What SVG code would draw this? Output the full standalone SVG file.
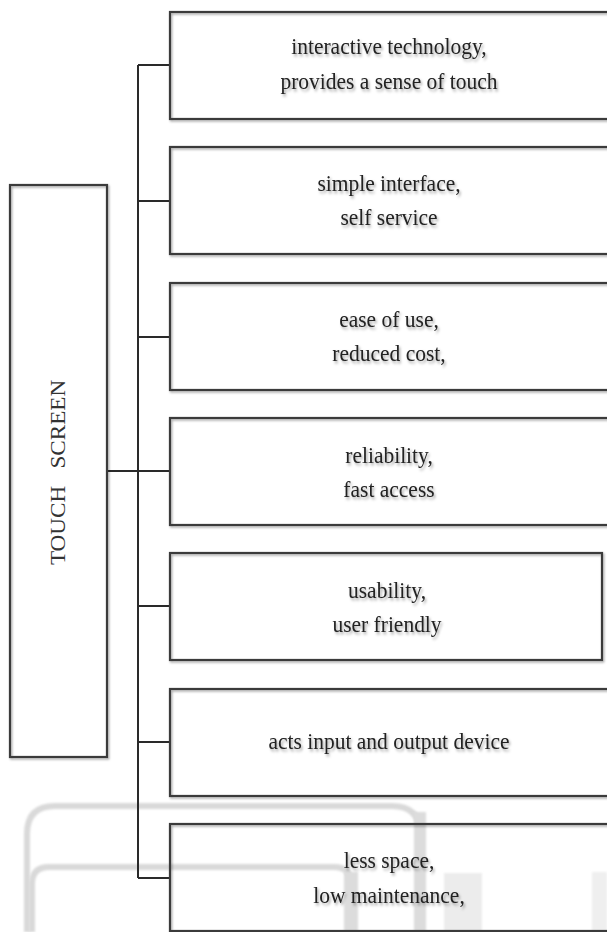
<svg xmlns="http://www.w3.org/2000/svg" width="607" height="932" viewBox="0 0 607 932">
  <defs>
    <filter id="shadow" x="-5%" y="-5%" width="110%" height="110%">
      <feDropShadow dx="1.2" dy="1.5" stdDeviation="1" flood-color="#000" flood-opacity="0.35"/>
    </filter>
    <filter id="tshadow" x="-5%" y="-20%" width="110%" height="140%">
      <feDropShadow dx="1.5" dy="2" stdDeviation="1.2" flood-color="#000" flood-opacity="0.35"/>
    </filter>
    <filter id="soft" x="-10%" y="-10%" width="120%" height="120%">
      <feGaussianBlur stdDeviation="1.2"/>
    </filter>
  </defs>
  <style>
    .box { fill: none; stroke: #3a3a3a; stroke-width: 2.2; filter: url(#shadow); }
    .lbl { font-family: "Liberation Serif", "Times New Roman", serif; font-size: 21.5px; fill: #222; text-anchor: middle; filter: url(#tshadow); }
    .main { font-family: "Liberation Serif", "Times New Roman", serif; font-size: 20.3px; fill: #333; text-anchor: middle; }
    .conn { stroke: #2a2a2a; stroke-width: 2; fill: none; }
    .wm { stroke: #d9d9d9; fill: none; stroke-linecap: butt; filter: url(#soft); }
  </style>
  <rect x="0" y="0" width="607" height="932" fill="#ffffff"/>

  <g id="watermark">
    <path class="wm" stroke-width="6" d="M27,932 V834 Q27,806 55,806 H392 Q420,806 420,834 V932"/>
    <path class="wm" stroke-width="6" d="M32,932 V884 Q32,867 49,867 H334 Q351,867 351,884 V932"/>
    <rect x="414" y="812" width="12" height="120" fill="#dcdcdc" filter="url(#soft)"/>
    <rect x="344" y="872" width="14" height="60" fill="#dcdcdc" filter="url(#soft)"/>
    <rect x="444" y="873" width="38" height="59" fill="#ececec" filter="url(#soft)"/>
    <rect x="592" y="872" width="15" height="60" fill="#efefef" filter="url(#soft)"/>
  </g>

  <g id="connectors">
    <line class="conn" x1="138" y1="65" x2="138" y2="878"/>
    <line class="conn" x1="107" y1="471" x2="138" y2="471"/>
    <line class="conn" x1="138" y1="65" x2="170" y2="65"/>
    <line class="conn" x1="138" y1="201" x2="170" y2="201"/>
    <line class="conn" x1="138" y1="337" x2="170" y2="337"/>
    <line class="conn" x1="138" y1="471" x2="170" y2="471"/>
    <line class="conn" x1="138" y1="606" x2="170" y2="606"/>
    <line class="conn" x1="138" y1="742" x2="170" y2="742"/>
    <line class="conn" x1="138" y1="878" x2="170" y2="878"/>
  </g>

  <g id="touch-screen">
    <rect class="box" x="10" y="185" width="97" height="572"/>
    <text class="main" xml:space="preserve" transform="translate(65,472.5) scale(1,1.14) rotate(-90)" x="0" y="0">TOUCH   SCREEN</text>
  </g>

  <g id="node1">
    <rect class="box" x="170" y="12" width="440" height="107"/>
    <text class="lbl" transform="translate(389,54) scale(1,1.12)">interactive technology,</text>
    <text class="lbl" transform="translate(389,89) scale(1,1.12)">provides a sense of touch</text>
  </g>
  <g id="node2">
    <rect class="box" x="170" y="147" width="440" height="107"/>
    <text class="lbl" transform="translate(389,191) scale(1,1.12)">simple interface,</text>
    <text class="lbl" transform="translate(389,225) scale(1,1.12)">self service</text>
  </g>
  <g id="node3">
    <rect class="box" x="170" y="283" width="440" height="107"/>
    <text class="lbl" transform="translate(389,327) scale(1,1.12)">ease of use,</text>
    <text class="lbl" transform="translate(389,361) scale(1,1.12)">reduced cost,</text>
  </g>
  <g id="node4">
    <rect class="box" x="170" y="418" width="440" height="107"/>
    <text class="lbl" transform="translate(389,463) scale(1,1.12)">reliability,</text>
    <text class="lbl" transform="translate(389,497) scale(1,1.12)">fast access</text>
  </g>
  <g id="node5">
    <rect class="box" x="170" y="553" width="432" height="107"/>
    <text class="lbl" transform="translate(387,598) scale(1,1.12)">usability,</text>
    <text class="lbl" transform="translate(387,632) scale(1,1.12)">user friendly</text>
  </g>
  <g id="node6">
    <rect class="box" x="170" y="689" width="440" height="107"/>
    <text class="lbl" transform="translate(389,749) scale(1,1.12)">acts input and output device</text>
  </g>
  <g id="node7">
    <rect class="box" x="170" y="824" width="440" height="107"/>
    <text class="lbl" transform="translate(389,868) scale(1,1.12)">less space,</text>
    <text class="lbl" transform="translate(389,903) scale(1,1.12)">low maintenance,</text>
  </g>
</svg>
